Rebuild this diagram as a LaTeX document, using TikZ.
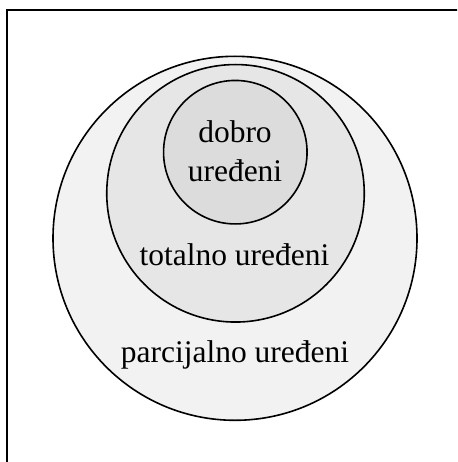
\documentclass[tikz,border=0pt]{standalone}
\usepackage{fontspec}
\setmainfont{Liberation Serif}
\begin{document}
\begin{tikzpicture}[x=1pt,y=-1pt,
  setcircle/.style={circle, draw=black, line width=1.6pt, inner sep=0pt},
  lbl/.style={font=\fontsize{31.5}{39}\selectfont, inner sep=0pt, anchor=base, align=center}]
\useasboundingbox (0,0) rectangle (457,462);
\clip (0,0) rectangle (457,462);
\coordinate (fbl) at (6.8,470);
\coordinate (ftl) at (6.8,10.3);
\coordinate (ftr) at (470,10.3);
\draw[line width=2.4pt] (fbl) -- (ftl) -- (ftr);
\node[setcircle, fill={rgb,255:red,242;green,242;blue,242}, minimum size=364pt] (outer) at (235,238.3) {};
\node[setcircle, fill={rgb,255:red,230;green,230;blue,230}, minimum size=257.5pt] (middle) at (235.5,193.3) {};
\node[setcircle, fill={rgb,255:red,220;green,220;blue,220}, minimum size=143.5pt] (inner) at (235.3,152.2) {};
\node[lbl] (dobro) at (235,143) {dobro};
\node[lbl] (uredjeni) at (235,182) {uređeni};
\node[lbl] (total) at (234.5,265) {totalno uređeni};
\node[lbl] (parc) at (235,362) {parcijalno uređeni};
\end{tikzpicture}
\end{document}
